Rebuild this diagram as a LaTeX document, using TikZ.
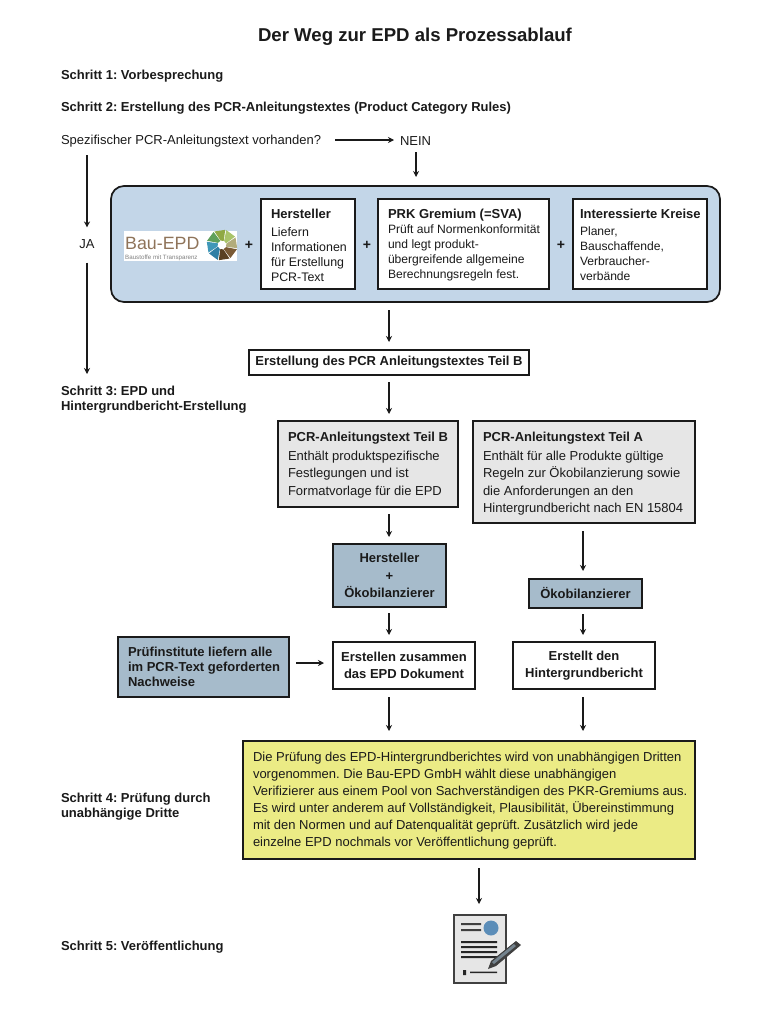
\documentclass[tikz,border=0pt]{standalone}
\usepackage{fontspec}
\setmainfont{Liberation Sans}
\usetikzlibrary{arrows.meta,calc}
\definecolor{panelblue}{HTML}{C3D6E8}
\definecolor{steel}{HTML}{A6BBCB}
\definecolor{lightgray}{HTML}{E6E6E6}
\definecolor{paleyellow}{HTML}{EBEB85}
\definecolor{ink}{HTML}{1A1A1A}
\definecolor{docblue}{HTML}{5B8DB8}
\tikzset{
 txt/.style={inner sep=0pt,outer sep=0pt,text=ink,font=\fontsize{13}{15}\selectfont,align=left},
 hd/.style={txt,font=\fontsize{13}{15}\selectfont\bfseries},
 box/.style={draw=ink,line width=1.2pt,inner sep=0pt,outer sep=0pt},
 arr/.style={draw=ink,line width=1.2pt,-{Stealth[length=6pt,width=6pt]}},
 plus/.style={inner sep=0pt,text=ink,font=\fontsize{14}{14}\selectfont\bfseries},
 btxt/.style={txt,font=\fontsize{13}{17.3}\selectfont\bfseries,align=center},
 body/.style={txt,font=\fontsize{13}{17.5}\selectfont},
 small/.style={txt,font=\fontsize{12.1}{14.9}\selectfont},
}
\frenchspacing
\begin{document}
\begin{tikzpicture}[x=1pt,y=-1pt]
\frenchspacing
\useasboundingbox (0,0) rectangle (761,1036);
\fill[white] (0,0) rectangle (761,1036);
\node[txt,anchor=center,font=\fontsize{18.6}{20}\selectfont\bfseries] (title) at (415,36.5) {Der Weg zur EPD als Prozessablauf};
\node[hd,anchor=west] (s1) at (61,76) {Schritt 1: Vorbesprechung};
\node[hd,anchor=west] (s2) at (61,108) {Schritt 2: Erstellung des PCR-Anleitungstextes (Product Category Rules)};
\node[txt,anchor=west] (q) at (61,141) {Spezifischer PCR-Anleitungstext vorhanden?};
\node[txt,anchor=west] (nein) at (400,141) {NEIN};
\node[txt,anchor=center] (ja) at (87,244) {JA};
\node[hd,anchor=north west] (s3) at (61,386) {Schritt 3: EPD und\\Hintergrundbericht-Erstellung};
\node[hd,anchor=north west] (s4) at (61,793) {Schritt 4: Prüfung durch\\unabhängige Dritte};
\node[hd,anchor=west] (s5) at (61,947.5) {Schritt 5: Veröffentlichung};

% blue panel
\node[box,line width=1.7pt,fill=panelblue,rounded corners=13pt,minimum width=609pt,minimum height=116pt,anchor=north west] (panel) at (111,186) {};
% logo
\node[fill=white,inner sep=0pt,minimum width=113pt,minimum height=30pt,anchor=north west] (logo) at (124,231) {};
\node[inner sep=0pt,anchor=west,text=brown!55!black!75,font=\fontsize{17.8}{18}\selectfont] (logotxt) at (125,243) {Bau-EPD};
\node[inner sep=0pt,anchor=west,text=black!50,font=\fontsize{6.2}{6}\selectfont] (logosub) at (125,257.5) {Baustoffe mit Transparenz};
\foreach \a/\c in {0/B2AC7C,45/A9C46A,90/8FA944,135/5FA05A,180/3F97B8,225/2F7FA5,270/5A4022,315/7A5A35}{
  \definecolor{wc}{HTML}{\c}
  \fill[wc] ($(222,245)+(\a-22:4.5pt)$) -- ($(222,245)+(\a-12:15.5pt)$) -- ($(222,245)+(\a+29:15.5pt)$) -- ($(222,245)+(\a+17:4.5pt)$) -- cycle;
}
\node[box,fill=white,minimum width=94pt,minimum height=90pt,anchor=north west] (h) at (261,199) {};
\node[hd,anchor=north west] (ht) at (271,209) {Hersteller};
\node[small,font=\fontsize{12.4}{14.8}\selectfont,anchor=north west] (hb) at (271,228) {Liefern\\Informationen\\für Erstellung\\PCR-Text};
\node[box,fill=white,minimum width=171pt,minimum height=90pt,anchor=north west] (p) at (378,199) {};
\node[hd,anchor=north west] (pt) at (388,209) {PRK Gremium (=SVA)};
\node[small,anchor=north west] (pb) at (388,225) {Prüft auf Normenkonformität\\und legt produkt-\\übergreifende allgemeine\\Berechnungsregeln fest.};
\node[box,fill=white,minimum width=134pt,minimum height=90pt,anchor=north west] (i) at (573,199) {};
\node[hd,anchor=north west] (it) at (580,209) {Interessierte Kreise};
\node[small,anchor=north west] (ib) at (580,227) {Planer,\\Bauschaffende,\\Verbraucher-\\verbände};
\node[plus] (p1) at (249,245) {+};
\node[plus] (p2) at (367,245) {+};
\node[plus] (p3) at (561,245) {+};

\node[box,line width=1.5pt,fill=white,minimum width=280pt,minimum height=25pt,anchor=north west,hd] (e) at (249,350) {Erstellung des PCR Anleitungstextes Teil B};

\node[box,fill=lightgray,minimum width=180pt,minimum height=86pt,anchor=north west] (b) at (278,421) {};
\node[hd,anchor=north west] (bt) at (288,432) {PCR-Anleitungstext Teil B};
\node[body,anchor=north west] (bb) at (288,451) {Enthält produktspezifische\\Festlegungen und ist\\Formatvorlage für die EPD};
\node[box,fill=lightgray,minimum width=222pt,minimum height=102pt,anchor=north west] (a) at (473,421) {};
\node[hd,anchor=north west] (at) at (483,432) {PCR-Anleitungstext Teil A};
\node[body,anchor=north west] (ab) at (483,451) {Enthält für alle Produkte gültige\\Regeln zur Ökobilanzierung sowie\\die Anforderungen an den\\Hintergrundbericht nach EN 15804};

\node[box,fill=steel,minimum width=113pt,minimum height=63pt,anchor=north west,btxt] (ho) at (333,544) {Hersteller\\+\\Ökobilanzierer};
\node[box,fill=steel,minimum width=113pt,minimum height=29pt,anchor=north west,btxt] (o) at (529,579) {Ökobilanzierer};
\node[box,fill=steel,minimum width=171pt,minimum height=60pt,anchor=north west] (pi) at (118,637) {};
\node[txt,anchor=west,font=\fontsize{13}{14.9}\selectfont\bfseries] (pit) at (128,667) {Prüfinstitute liefern alle\\im PCR-Text geforderten\\Nachweise};
\node[box,fill=white,minimum width=142pt,minimum height=47pt,anchor=north west,btxt] (ed) at (333,642) {Erstellen zusammen\\das EPD Dokument};
\node[box,fill=white,minimum width=142pt,minimum height=47pt,anchor=north west,btxt] (eh) at (513,642) {Erstellt den\\Hintergrundbericht};

\node[box,fill=paleyellow,minimum width=452pt,minimum height=118pt,anchor=north west] (y) at (243,741) {};
\node[txt,anchor=north west,font=\fontsize{13}{17}\selectfont] (yt) at (253,752) {Die Prüfung des EPD-Hintergrundberichtes wird von unabhängigen Dritten\\vorgenommen. Die Bau-EPD GmbH wählt diese unabhängigen\\Verifizierer aus einem Pool von Sachverständigen des PKR-Gremiums aus.\\Es wird unter anderem auf Vollständigkeit, Plausibilität, Übereinstimmung\\mit den Normen und auf Datenqualität geprüft. Zusätzlich wird jede\\einzelne EPD nochmals vor Veröffentlichung geprüft.};

% document icon
\node[draw=black!75,line width=1.5pt,fill=lightgray,minimum width=52pt,minimum height=68pt,inner sep=0pt,anchor=north west] (doc) at (453,914) {};
\fill[black!75] (461,923) rectangle (481,925) (461,929) rectangle (481,931);
\fill[black!85] (461,941) rectangle (497,943) (461,946) rectangle (497,948) (461,951) rectangle (497,953) (461,956) rectangle (497,958);
\fill[black!85] (463,970) rectangle (466,975) (470,971.5) rectangle (497,973);
\fill[docblue] (491,928) circle (7.5pt);
\fill[black!75] (488,969) -- (491,961) -- (516,941) -- (521,945) -- (496,966) -- cycle;
\fill[steel!70!black] (492,962) -- (514,944) -- (516,946) -- (494,964) -- cycle;

% connectors
\draw[arr,shorten >=6pt] (335,141 -| q.east) ++(14,-1) coordinate (qe) -- (qe -| nein.west);
\coordinate (ne) at ($(nein.south)+(0.5,7)$);
\draw[arr,shorten >=9pt] (ne) -- (ne |- panel.north);
\coordinate (j1) at ($(ja.north)+(0,-84)$);
\coordinate (j2) at ($(ja.north)+(0,-12)$);
\draw[arr] (j1) -- (j2);
\coordinate (j3) at ($(ja.south)+(0,14)$);
\coordinate (j4) at ($(s3.north west)+(26,-12)$);
\draw[arr] (j3) -- (j3 |- j4);
\coordinate (cx) at (389,0);
\coordinate (dx) at (583,0);
\draw[arr,shorten <=8pt,shorten >=8pt] (cx |- panel.south) -- (cx |- e.north);
\draw[arr,shorten <=7pt,shorten >=7pt] (cx |- e.south) -- (cx |- b.north);
\draw[arr,shorten <=7pt,shorten >=7pt] (cx |- b.south) -- (cx |- ho.north);
\draw[arr,shorten <=8pt,shorten >=8pt] (dx |- a.south) -- (dx |- o.north);
\draw[arr,shorten <=6pt,shorten >=7pt] (cx |- ho.south) -- (cx |- ed.north);
\draw[arr,shorten <=6pt,shorten >=7pt] (dx |- o.south) -- (dx |- eh.north);
\coordinate (pa) at ($(pi.east)+(0,-4)$);
\draw[arr,shorten <=7pt,shorten >=9pt] (pa) -- (pa -| ed.west);
\draw[arr,shorten <=8pt,shorten >=10pt] (cx |- ed.south) -- (cx |- y.north);
\draw[arr,shorten <=8pt,shorten >=10pt] (dx |- eh.south) -- (dx |- y.north);
\coordinate (dx2) at (479,0);
\draw[arr,shorten <=9pt,shorten >=10pt] (dx2 |- y.south) -- (dx2 |- doc.north);
\end{tikzpicture}
\end{document}
